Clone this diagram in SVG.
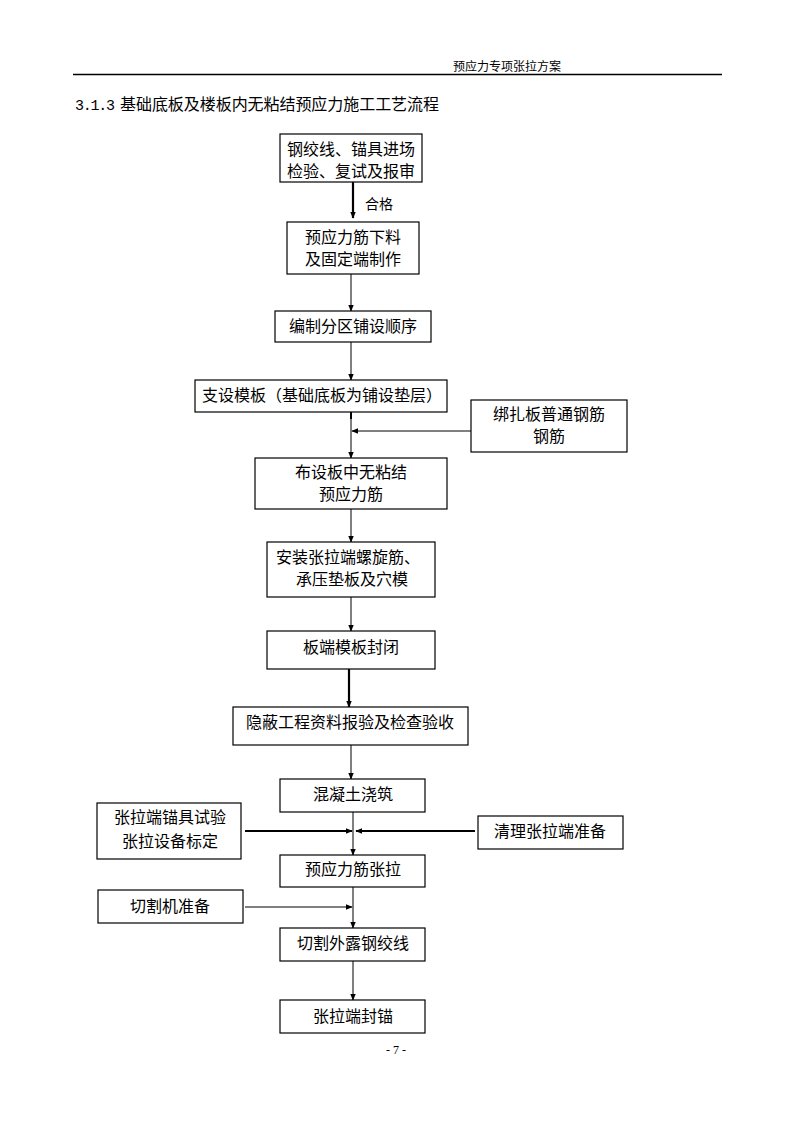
<svg xmlns="http://www.w3.org/2000/svg" width="794" height="1123" viewBox="0 0 794 1123">
<defs>
<style>
.bg{fill:#fff}
.box{fill:#fff;stroke:#000;stroke-width:1.2}
.t{font-family:"Noto Sans CJK SC","Liberation Sans",sans-serif;font-size:16px;fill:#000;text-anchor:middle}
.hd{font-family:"Noto Sans CJK SC","Liberation Sans",sans-serif;font-size:12px;fill:#000;text-anchor:middle}
.ti{font-family:"Noto Sans CJK SC","Liberation Sans",sans-serif;font-size:16px;fill:#000}
.pg{font-family:"Liberation Serif",serif;font-size:12px;fill:#000;text-anchor:middle}
.c{stroke:#000;stroke-width:1;fill:none;marker-end:url(#ah)}
.ck{stroke:#000;stroke-width:2.2;fill:none;marker-end:url(#ah)}
</style>
<marker id="ah" viewBox="0 0 10 10" refX="9" refY="5" markerWidth="7" markerHeight="7" markerUnits="userSpaceOnUse" orient="auto">
<path d="M0,1 L10,5 L0,9 z" fill="#000"/>
</marker>
</defs>
<rect class="bg" x="0" y="0" width="794" height="1123"/>
<g id="header">
<text class="hd" x="507" y="71">预应力专项张拉方案</text>
<line x1="73" y1="74.5" x2="722" y2="74.5" stroke="#000" stroke-width="1.5"/>
<text class="ti" x="75" y="110"><tspan font-family="Liberation Mono, monospace" font-size="15" textLength="40" lengthAdjust="spacing">3.1.3</tspan><tspan x="120" textLength="319" lengthAdjust="spacing">基础底板及楼板内无粘结预应力施工工艺流程</tspan></text>
</g>
<g id="connectors">
<line class="ck" x1="353" y1="182" x2="353" y2="218"/>
<line class="c" x1="351" y1="274" x2="351" y2="311"/>
<line class="c" x1="351" y1="342" x2="351" y2="380"/>
<line x1="351" y1="412" x2="351" y2="419" stroke="#000" stroke-width="2"/>
<line class="c" x1="351" y1="412" x2="351" y2="458"/>
<line class="c" x1="471" y1="431" x2="352" y2="431"/>
<line class="c" x1="351" y1="509" x2="351" y2="542"/>
<line class="c" x1="351" y1="597" x2="351" y2="631"/>
<line class="ck" x1="349" y1="669" x2="349" y2="707"/>
<line class="c" x1="351" y1="745" x2="351" y2="779"/>
<line class="c" x1="353" y1="812" x2="353" y2="855"/>
<line class="ck" x1="245" y1="831" x2="352" y2="831"/>
<line class="ck" x1="475" y1="831" x2="356" y2="831"/>
<line class="c" x1="353" y1="887" x2="353" y2="928"/>
<line class="c" x1="245" y1="907" x2="352" y2="907"/>
<line class="c" x1="353" y1="961" x2="353" y2="1000"/>
<text class="t" x="379" y="209" style="font-size:14px">合格</text>
</g>
<g id="n1"><rect class="box" x="280" y="134" width="142" height="48"/><text class="t" x="351" y="155">钢绞线、锚具进场</text><text class="t" x="351" y="177">检验、复试及报审</text></g>
<g id="n2"><rect class="box" x="287" y="222" width="132" height="52"/><text class="t" x="353" y="243">预应力筋下料</text><text class="t" x="353" y="265">及固定端制作</text></g>
<g id="n3"><rect class="box" x="275" y="311" width="156" height="31"/><text class="t" x="353" y="332">编制分区铺设顺序</text></g>
<g id="n4"><rect class="box" x="195" y="380" width="252" height="32"/><text class="t" x="322" y="401">支设模板（基础底板为铺设垫层）</text></g>
<g id="n4b"><rect class="box" x="471" y="400" width="156" height="52"/><text class="t" x="549" y="420">绑扎板普通钢筋</text><text class="t" x="549" y="442">钢筋</text></g>
<g id="n5"><rect class="box" x="255" y="458" width="192" height="51"/><text class="t" x="351" y="478">布设板中无粘结</text><text class="t" x="351" y="500">预应力筋</text></g>
<g id="n6"><rect class="box" x="267" y="542" width="168" height="55"/><text class="t" x="348" y="563">安装张拉端螺旋筋、</text><text class="t" x="352" y="585">承压垫板及穴模</text></g>
<g id="n7"><rect class="box" x="267" y="631" width="168" height="38"/><text class="t" x="351" y="653">板端模板封闭</text></g>
<g id="n8"><rect class="box" x="233" y="707" width="235" height="38"/><text class="t" x="350" y="728">隐蔽工程资料报验及检查验收</text></g>
<g id="n9"><rect class="box" x="280" y="779" width="145" height="33"/><text class="t" x="353" y="800">混凝土浇筑</text></g>
<g id="nA"><rect class="box" x="97" y="803" width="144" height="56"/><text class="t" x="170" y="823">张拉端锚具试验</text><text class="t" x="170" y="847">张拉设备标定</text></g>
<g id="nB"><rect class="box" x="478" y="816" width="145" height="33"/><text class="t" x="550" y="837">清理张拉端准备</text></g>
<g id="n10"><rect class="box" x="280" y="855" width="145" height="32"/><text class="t" x="353" y="875">预应力筋张拉</text></g>
<g id="nC"><rect class="box" x="98" y="890" width="145" height="33"/><text class="t" x="170" y="912">切割机准备</text></g>
<g id="n11"><rect class="box" x="280" y="928" width="145" height="33"/><text class="t" x="353" y="949">切割外露钢绞线</text></g>
<g id="n12"><rect class="box" x="280" y="1000" width="145" height="33"/><text class="t" x="353" y="1022">张拉端封锚</text></g>
<g id="footer"><text class="pg" x="396" y="1054">- 7 -</text></g>
</svg>
